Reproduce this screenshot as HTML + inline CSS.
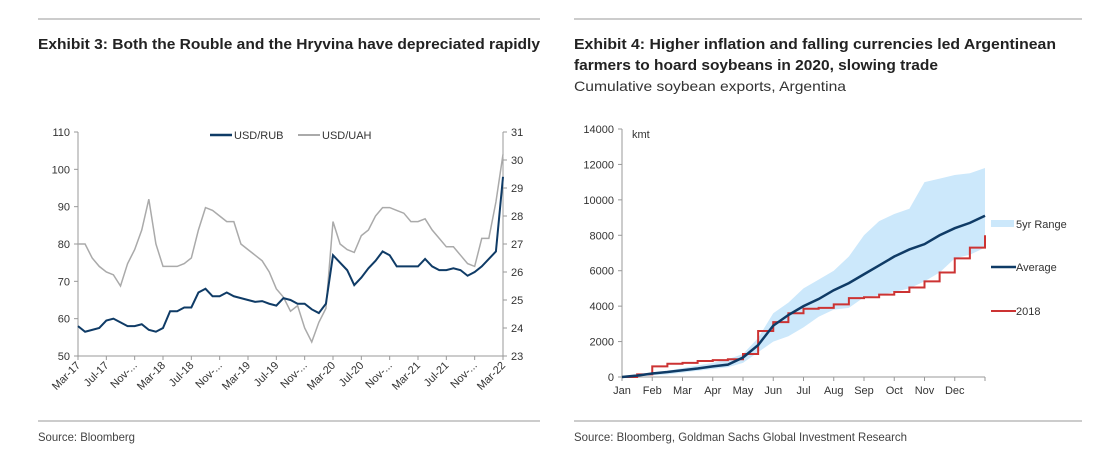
<!DOCTYPE html>
<html><head><meta charset="utf-8"><style>
body{margin:0;background:#fff;}
svg{display:block;font-family:"Liberation Sans",Arial,sans-serif;}
</style></head><body>
<svg id="s" width="1096" height="457" viewBox="0 0 1096 457">
<line x1="38" y1="19" x2="540" y2="19" stroke="#bbb" stroke-width="1.5"/>
<line x1="574" y1="19" x2="1082" y2="19" stroke="#bbb" stroke-width="1.5"/>
<text x="38" y="49" font-size="15" font-weight="bold" fill="#222" textLength="502" lengthAdjust="spacingAndGlyphs">Exhibit 3: Both the Rouble and the Hryvina have depreciated rapidly</text>
<text x="574" y="49" font-size="15" font-weight="bold" fill="#222" textLength="482" lengthAdjust="spacingAndGlyphs">Exhibit 4: Higher inflation and falling currencies led Argentinean</text>
<text x="574" y="70" font-size="15" font-weight="bold" fill="#222" textLength="364" lengthAdjust="spacingAndGlyphs">farmers to hoard soybeans in 2020, slowing trade</text>
<text x="574" y="91" font-size="14" fill="#333" textLength="272" lengthAdjust="spacingAndGlyphs">Cumulative soybean exports, Argentina</text>
<line x1="38" y1="421" x2="540" y2="421" stroke="#bbb" stroke-width="1.5"/>
<line x1="574" y1="421" x2="1082" y2="421" stroke="#bbb" stroke-width="1.5"/>
<text x="38" y="441" font-size="12" fill="#444" textLength="97" lengthAdjust="spacingAndGlyphs">Source: Bloomberg</text>
<text x="574" y="441" font-size="12" fill="#444" textLength="333" lengthAdjust="spacingAndGlyphs">Source: Bloomberg, Goldman Sachs Global Investment Research</text>
<g id="left"></g>
<g id="right"></g>
</svg>
<script>
const NS="http://www.w3.org/2000/svg";
function mk(parent,tag,attrs,txt){const e=document.createElementNS(NS,tag);for(const k in attrs)e.setAttribute(k,attrs[k]);if(txt!==undefined)e.textContent=txt;parent.appendChild(e);return e;}

// ---- Left chart data ----
const fxLabels=["Mar-17","Jul-17","Nov-...","Mar-18","Jul-18","Nov-...","Mar-19","Jul-19","Nov-...","Mar-20","Jul-20","Nov-...","Mar-21","Jul-21","Nov-...","Mar-22"];
const leftTicks=[50,60,70,80,90,100,110];
const rightTicks=[23,24,25,26,27,28,29,30,31];
const rub=[58,56.5,57,57.5,59.5,60,59,58,58,58.5,57,56.5,57.5,62,62,63,63,67,68,66,66,67,66,65.5,65,64.5,64.7,64,63.5,65.5,65,64,64,62.5,61.5,64,77,75,73,69,71,73.5,75.5,78,77,74,74,74,74,76,74,73,73,73.5,73,71.5,72.5,74,76,78,98];
const uah=[27,27,26.5,26.2,26,25.9,25.5,26.3,26.8,27.5,28.6,27,26.2,26.2,26.2,26.3,26.5,27.5,28.3,28.2,28,27.8,27.8,27,26.8,26.6,26.4,26,25.4,25.1,24.6,24.8,24,23.5,24.2,24.7,27.8,27,26.8,26.7,27.3,27.5,28,28.3,28.3,28.2,28.1,27.8,27.8,27.9,27.5,27.2,26.9,26.9,26.6,26.3,26.2,27.2,27.2,28.5,30.2];

const L=document.getElementById('left');
const lx0=78,lx1=503,ly0=132,ly1=356;
const fxX=i=>lx0+i*(lx1-lx0)/60;
const yL=v=>ly1-(v-50)/60*(ly1-ly0);
const yR=v=>ly1-(v-23)/8*(ly1-ly0);
mk(L,'line',{x1:lx0,y1:ly0,x2:lx0,y2:ly1,stroke:'#999'});
mk(L,'line',{x1:lx1,y1:ly0,x2:lx1,y2:ly1,stroke:'#999'});
mk(L,'line',{x1:lx0,y1:ly1,x2:lx1,y2:ly1,stroke:'#999'});
leftTicks.forEach(v=>{mk(L,'line',{x1:lx0-4,y1:yL(v),x2:lx0,y2:yL(v),stroke:'#999'});
 const t=mk(L,'text',{x:lx0-8,y:yL(v)+4,'font-size':11,fill:'#333','text-anchor':'end'},v);
 
 });
rightTicks.forEach(v=>{mk(L,'line',{x1:lx1,y1:yR(v),x2:lx1+4,y2:yR(v),stroke:'#999'});
 const t=mk(L,'text',{x:lx1+8,y:yR(v)+4,'font-size':11,fill:'#333'},v);
 
 });
fxLabels.forEach((s,i)=>{const x=fxX(i*4);mk(L,'line',{x1:x,y1:ly1,x2:x,y2:ly1+4,stroke:'#999'});
 const t=mk(L,'text',{x:x+3,y:ly1+10,'font-size':11,fill:'#333','text-anchor':'end',transform:`rotate(-45 ${x+3} ${ly1+10})`},s);
 
 });
const pu=mk(L,'polyline',{points:uah.map((v,i)=>fxX(i)+','+yR(v)).join(' '),fill:'none',stroke:'#aaa','stroke-width':1.5});


const pr=mk(L,'polyline',{points:rub.map((v,i)=>fxX(i)+','+yL(v)).join(' '),fill:'none',stroke:'#0f3b66','stroke-width':2});


mk(L,'line',{x1:210,y1:135,x2:232,y2:135,stroke:'#0f3b66','stroke-width':2.5});
const l1=mk(L,'text',{x:234,y:139,'font-size':11,fill:'#333'},'USD/RUB');


mk(L,'line',{x1:298,y1:135,x2:320,y2:135,stroke:'#aaa','stroke-width':2});
const l2=mk(L,'text',{x:322,y:139,'font-size':11,fill:'#333'},'USD/UAH');



// ---- Right chart data ----
const months=["Jan","Feb","Mar","Apr","May","Jun","Jul","Aug","Sep","Oct","Nov","Dec"];
const soyTicks=[0,2000,4000,6000,8000,10000,12000,14000];
const avg=[0,80,200,280,380,480,600,700,1100,1800,2900,3500,4000,4400,4900,5300,5800,6300,6800,7200,7500,8000,8400,8700,9100];
const y2018=[0,150,600,750,800,900,950,1000,1300,2600,3100,3600,3850,3900,4100,4450,4500,4650,4800,5050,5400,5900,6700,7300,8000];
const rangeHi=[0,100,250,350,500,650,800,1000,1300,2200,3600,4200,5000,5500,6000,6800,8000,8800,9200,9500,11000,11200,11400,11500,11800];
const rangeLo=[0,30,100,150,250,350,450,550,800,1400,2000,2300,2800,3400,3800,3900,4500,4600,4800,5000,5400,5900,6700,6900,7300];

const R=document.getElementById('right');
const rx0=622,rx1=985,ry0=129,ry1=377;
const sx=i=>rx0+i*(rx1-rx0)/24;
const sy=v=>ry1-v/14000*(ry1-ry0);
const band=mk(R,'polygon',{points:rangeHi.map((v,i)=>sx(i)+','+sy(v)).concat(rangeLo.map((v,i)=>sx(i)+','+sy(v)).reverse()).join(' '),fill:'#cce8fb'});


mk(R,'line',{x1:rx0,y1:ry0,x2:rx0,y2:ry1,stroke:'#999'});
mk(R,'line',{x1:rx0,y1:ry1,x2:rx1,y2:ry1,stroke:'#999'});
soyTicks.forEach(v=>{mk(R,'line',{x1:rx0-4,y1:sy(v),x2:rx0,y2:sy(v),stroke:'#999'});
 const t=mk(R,'text',{x:rx0-8,y:sy(v)+4,'font-size':11,fill:'#333','text-anchor':'end'},v);
 
 });
months.forEach((m,i)=>{const x=sx(i*2);mk(R,'line',{x1:x,y1:ry1,x2:x,y2:ry1+4,stroke:'#999'});
 const t=mk(R,'text',{x:x,y:ry1+17,'font-size':11,fill:'#333','text-anchor':'middle'},m);
 
 });
mk(R,'line',{x1:rx1,y1:ry1,x2:rx1,y2:ry1+4,stroke:'#999'});
const ku=mk(R,'text',{x:632,y:138,'font-size':11,fill:'#333'},'kmt');


let st=[];y2018.forEach((v,i)=>{if(i>0)st.push(sx(i)+','+sy(y2018[i-1]));st.push(sx(i)+','+sy(v));});
const p18=mk(R,'polyline',{points:st.join(' '),fill:'none',stroke:'#cc3333','stroke-width':2});


const pa=mk(R,'polyline',{points:avg.map((v,i)=>sx(i)+','+sy(v)).join(' '),fill:'none',stroke:'#0f3b66','stroke-width':2.5});


mk(R,'rect',{x:991,y:220,width:23,height:7,fill:'#cce8fb'});
const g1=mk(R,'text',{x:1016,y:228,'font-size':11,fill:'#333'},'5yr Range');


mk(R,'line',{x1:991,y1:267,x2:1016,y2:267,stroke:'#0f3b66','stroke-width':2.5});
const g2=mk(R,'text',{x:1016,y:271,'font-size':11,fill:'#333'},'Average');


mk(R,'line',{x1:991,y1:311,x2:1016,y2:311,stroke:'#cc3333','stroke-width':2});
const g3=mk(R,'text',{x:1016,y:315,'font-size':11,fill:'#333'},'2018');


</script>
</body></html>
